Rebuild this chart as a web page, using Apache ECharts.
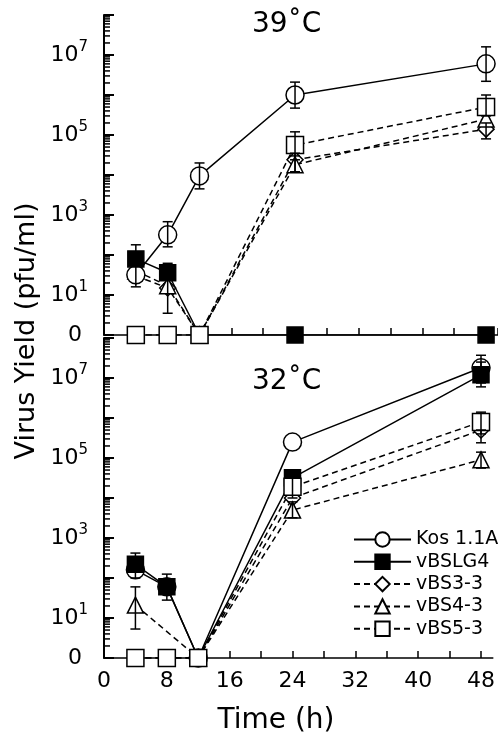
<!DOCTYPE html>
<html>
<head>
<meta charset="utf-8">
<script src="https://cdn.jsdelivr.net/npm/echarts@6/dist/echarts.min.js"></script>
<style>html,body{margin:0;padding:0;background:#fff;}#c{width:498px;height:738px;}</style>
</head>
<body>
<div id="c"></div>
<script>
// ---- data (0 = not detected, drawn on the "0" baseline) ----
const times = [4, 8, 12, 24, 48];
const seriesNames = ['Kos 1.1A', 'vBSLG4', 'vBS3-3', 'vBS4-3', 'vBS5-3'];

// 39 C panel
const kos39   = [32, 320, 9500, 1.0e6, 6.0e6];
const kos39Lo = [16, 160, 4500, 4.7e5, 2.2e6];
const kos39Hi = [60, 680, 20000, 2.1e6, 1.6e7];
const lg39    = [80, 36, 0, 0, 0];
const lg39Lo  = [null, null, null, null, null];
const lg39Hi  = [180, 62, null, null, null];
const bs33_39   = [30, 15, 0, 24000, 1.4e5];
const bs33_39Lo = [null, null, null, 1.2e4, 8e4];
const bs33_39Hi = [null, null, null, 3.5e4, 2e5];
const bs43_39   = [40, 17, 0, 18000, 2.5e5];
const bs43_39Lo = [null, 3.5, null, 1.2e4, null];
const bs43_39Hi = [null, 28, null, 3e4, null];
const bs53_39   = [0, 0, 0, 56000, 5.0e5];
const bs53_39Lo = [null, null, null, 2.4e4, 3e5];
const bs53_39Hi = [null, null, null, 1.2e5, 1.0e6];

// 32 C panel
const kos32   = [160, 60, 0, 2.5e5, 1.8e7];
const kos32Lo = [null, null, null, null, 7.5e6];
const kos32Hi = [null, null, null, null, 3.7e7];
const lg32    = [220, 60, 0, 3.2e4, 1.2e7];
const lg32Lo  = [100, 28, null, null, 6e6];
const lg32Hi  = [420, 125, null, 4.5e4, 2.5e7];
const bs33_32   = [0, 0, 0, 1.0e4, 5.0e5];
const bs33_32Lo = [null, null, null, null, 2.4e5];
const bs33_32Hi = [null, null, null, null, null];
const bs43_32   = [21, null, 0, 5000, 9e4];
const bs43_32Lo = [5.3, null, null, 3200, 5.6e4];
const bs43_32Hi = [60, null, null, 8000, 1.4e5];
const bs53_32   = [0, 0, 0, 1.9e4, 8e5];
const bs53_32Lo = [null, null, null, 1.0e4, 4e5];
const bs53_32Hi = [null, null, null, 5e4, 1.4e6];

const yLabelExps = [1, 3, 5, 7];
const xTickLabels = [0, 8, 16, 24, 32, 40, 48];

// ---- build ----
const BASE = 1; // "0" baseline on the log axis
const FONT = 'DejaVu Sans';
const toPts = arr => times.map((t, i) => arr[i] === null ? [t, null] : [t, arr[i] === 0 ? BASE : arr[i]]);

const styles = {
  'Kos 1.1A': {symbol: 'circle', size: 18, fill: '#fff', dash: 'solid'},
  'vBSLG4':   {symbol: 'rect', size: 16, fill: '#000', dash: 'solid'},
  'vBS3-3':   {symbol: 'diamond', size: 16, fill: '#fff', dash: [6, 4]},
  'vBS4-3':   {symbol: 'triangle', size: 16, fill: '#fff', dash: [6, 4]},
  'vBS5-3':   {symbol: 'rect', size: 17, fill: '#fff', dash: [6, 4]}
};
const drawOrder = ['vBS3-3', 'vBS4-3', 'Kos 1.1A', 'vBSLG4', 'vBS5-3'];

const panels = [
  {vals: {'Kos 1.1A': kos39, 'vBSLG4': lg39, 'vBS3-3': bs33_39, 'vBS4-3': bs43_39, 'vBS5-3': bs53_39},
   lo: [kos39Lo, lg39Lo, bs33_39Lo, bs43_39Lo, bs53_39Lo], hi: [kos39Hi, lg39Hi, bs33_39Hi, bs43_39Hi, bs53_39Hi]},
  {vals: {'Kos 1.1A': kos32, 'vBSLG4': lg32, 'vBS3-3': bs33_32, 'vBS4-3': bs43_32, 'vBS5-3': bs53_32},
   lo: [kos32Lo, lg32Lo, bs33_32Lo, bs43_32Lo, bs53_32Lo], hi: [kos32Hi, lg32Hi, bs33_32Hi, bs43_32Hi, bs53_32Hi]}
];

const minorVals = [];
for (let e = 0; e < 8; e++) for (let m = 2; m <= 9; m++) minorVals.push(m * Math.pow(10, e));

const series = [];
panels.forEach((p, pi) => {
  // minor log ticks on the y axis
  series.push({
    type: 'custom', xAxisIndex: pi, yAxisIndex: pi, silent: true, z: 5,
    data: minorVals.map(v => [0, v]),
    renderItem: (params, api) => {
      const c = api.coord([0, api.value(1)]);
      return {type: 'line', shape: {x1: c[0], y1: c[1], x2: c[0] + 6, y2: c[1]},
              style: {stroke: '#000', lineWidth: 1.5}};
    }
  });
  drawOrder.forEach(name => {
    const s = styles[name];
    series.push({
      name, type: 'line', xAxisIndex: pi, yAxisIndex: pi, z: 3,
      data: toPts(p.vals[name]), connectNulls: true,
      symbol: s.symbol, symbolSize: s.size, showAllSymbol: true,
      lineStyle: {color: '#000', width: 1.5, type: s.dash},
      itemStyle: {color: s.fill, borderColor: '#000', borderWidth: 1.5},
      emphasis: {disabled: true}, animation: false
    });
  });
  // error bars
  const err = [];
  p.lo.forEach((loArr, si) => {
    const hiArr = p.hi[si];
    times.forEach((t, i) => {
      const v = p.vals[seriesNames[si]][i];
      if (loArr[i] === null && hiArr[i] === null) return;
      err.push([t, loArr[i] === null ? v : loArr[i], hiArr[i] === null ? v : hiArr[i]]);
    });
  });
  series.push({
    type: 'custom', xAxisIndex: pi, yAxisIndex: pi, silent: true, z: 4,
    data: err,
    renderItem: (params, api) => {
      const a = api.coord([api.value(0), api.value(1)]);
      const b = api.coord([api.value(0), api.value(2)]);
      const st = {stroke: '#000', lineWidth: 1.5};
      const ch = [{type: 'line', shape: {x1: a[0], y1: a[1], x2: b[0], y2: b[1]}, style: st}];
      ch.push({type: 'line', shape: {x1: a[0] - 5, y1: a[1], x2: a[0] + 5, y2: a[1]}, style: st});
      ch.push({type: 'line', shape: {x1: b[0] - 5, y1: b[1], x2: b[0] + 5, y2: b[1]}, style: st});
      return {type: 'group', children: ch};
    }
  });
});

const yAxisCommon = {
  type: 'log', logBase: 10, min: 1, max: 1e8,
  axisLine: {show: true, onZero: false, lineStyle: {color: '#000', width: 2}},
  axisTick: {show: true, inside: true, length: 10, lineStyle: {color: '#000', width: 2}},
  splitLine: {show: false},
  axisLabel: {
    margin: 16, color: '#000',
    formatter: v => {
      const e = Math.round(Math.log10(v));
      if (e === 0) return '{n|0}';
      if (yLabelExps.indexOf(e) >= 0) return '{b|10}{s|' + e + '}';
      return '';
    },
    rich: {
      n: {fontSize: 22, fontFamily: FONT, color: '#000', padding: [0, 6, 0, 0]},
      b: {fontSize: 22, fontFamily: FONT, color: '#000', lineHeight: 30},
      s: {fontSize: 15, fontFamily: FONT, color: '#000', verticalAlign: 'top', lineHeight: 15}
    }
  }
};
const xAxisCommon = {
  type: 'value', min: 0, max: 49.5, interval: 4,
  axisLine: {show: true, onZero: false, lineStyle: {color: '#000', width: 1.5}},
  axisTick: {show: true, inside: true, length: 7, lineStyle: {color: '#000', width: 1.5}},
  splitLine: {show: false}
};

const option = {
  backgroundColor: '#fff',
  animation: false,
  grid: [
    {left: 104, top: 15, width: 394, height: 320},
    {left: 104, top: 338, width: 394, height: 320}
  ],
  xAxis: [
    Object.assign({gridIndex: 0, axisLabel: {show: false}}, xAxisCommon),
    Object.assign({gridIndex: 1, axisLabel: {
      show: true, margin: 12, color: '#000', fontSize: 22, fontFamily: FONT, showMaxLabel: false,
      formatter: v => xTickLabels.indexOf(v) >= 0 ? String(v) : ''
    }}, xAxisCommon)
  ],
  yAxis: [
    Object.assign({gridIndex: 0}, yAxisCommon),
    Object.assign({gridIndex: 1}, yAxisCommon)
  ],
  legend: {
    data: seriesNames, orient: 'vertical', left: 348, top: 525,
    itemWidth: 57, itemHeight: 18, itemGap: 3.3,
    textStyle: {fontSize: 19, fontFamily: FONT, color: '#000'},
    selectedMode: false
  },
  graphic: [
    {type: 'text', left: 252, top: 11, style: {text: '39˚C', font: '28px "DejaVu Sans"', fill: '#000'}},
    {type: 'text', left: 252, top: 368, style: {text: '32˚C', font: '28px "DejaVu Sans"', fill: '#000'}},
    {type: 'text', x: 276, y: 721, style: {text: 'Time (h)', font: '28px "DejaVu Sans"', fill: '#000', align: 'center', verticalAlign: 'middle'}},
    {type: 'text', x: 27, y: 331, rotation: Math.PI / 2, style: {text: 'Virus Yield (pfu/ml)', font: '27px "DejaVu Sans"', fill: '#000', align: 'center', verticalAlign: 'middle'}}
  ],
  series
};
const chart = echarts.init(document.getElementById('c'), null, {renderer: 'canvas'});
chart.setOption(option);
</script>
</body>
</html>
